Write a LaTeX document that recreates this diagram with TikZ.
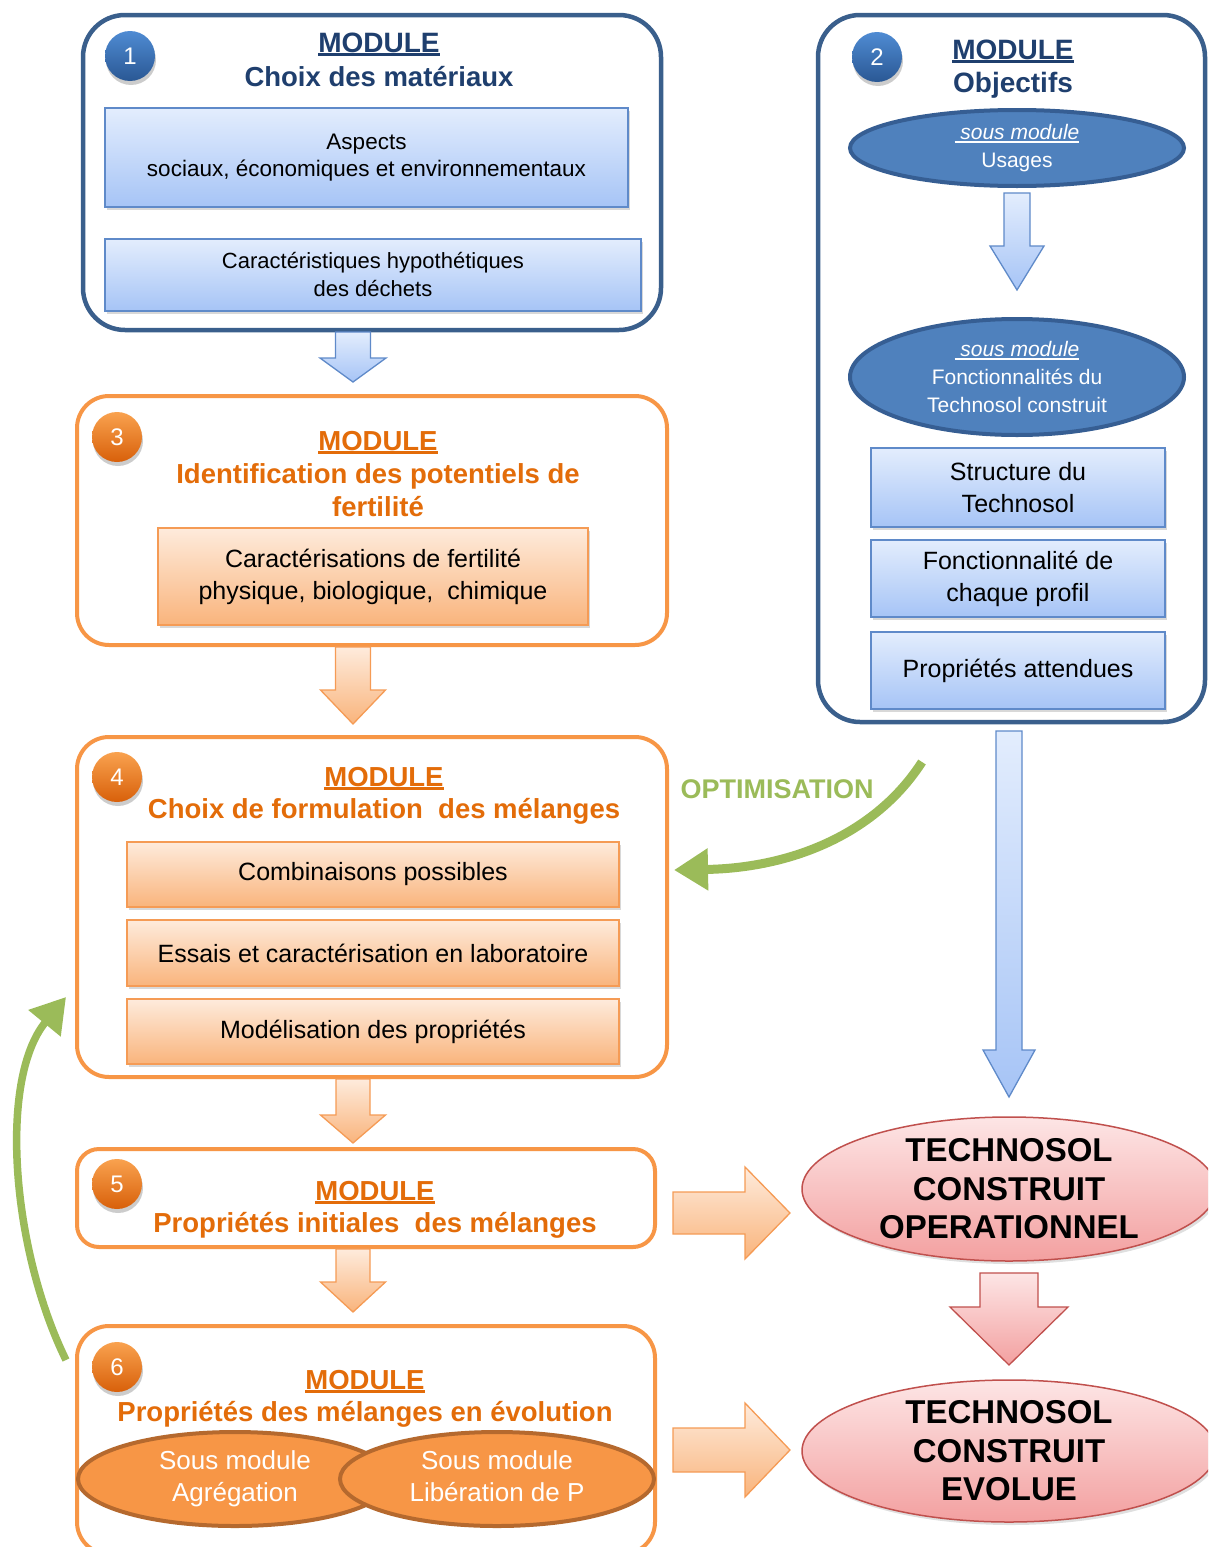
\documentclass[tikz,border=0pt]{standalone}
\usepackage{fontspec}
\setmainfont{Liberation Sans}
\usetikzlibrary{shapes.geometric,arrows.meta,shadows}
\definecolor{dblue}{HTML}{3A5F8C}
\definecolor{tblue}{HTML}{1F3F6E}
\definecolor{bbord}{HTML}{5F8AC9}
\definecolor{btop}{HTML}{E3EDFD}
\definecolor{bbot}{HTML}{A6C4F6}
\definecolor{eblue}{HTML}{4F81BD}
\definecolor{eborder}{HTML}{365E93}
\definecolor{nbtop}{HTML}{4F8BD3}
\definecolor{nbbot}{HTML}{2A5894}
\definecolor{orng}{HTML}{F79646}
\definecolor{torng}{HTML}{E36C09}
\definecolor{otop}{HTML}{FEEBDC}
\definecolor{obot}{HTML}{F9B47C}
\definecolor{obord}{HTML}{F59B55}
\definecolor{obrd}{HTML}{B5692E}
\definecolor{notop}{HTML}{F9A24F}
\definecolor{nobot}{HTML}{D8600A}
\definecolor{grn}{HTML}{9BBB59}
\definecolor{ptop}{HTML}{FDE5E5}
\definecolor{pbot}{HTML}{F3A0A0}
\definecolor{pbrd}{HTML}{C0504D}
\newcommand\uln[1]{\setbox0=\hbox{#1}\rlap{\rule[-3.5pt]{\wd0}{2.2pt}}\box0}
\newcommand\fsz[2]{\fontsize{#1}{#2}\selectfont}
% style, cx, ytop, shaft half, head half, head start y, tip y
\newcommand\blockarrowv[7]{\path[#1] (#2-#4,#3) -- (#2+#4,#3) -- (#2+#4,#6) -- (#2+#5,#6) -- (#2,#7) -- (#2-#5,#6) -- (#2-#4,#6) -- cycle;}
% style, cy, xleft, shaft half, head half, head start x, tip x
\newcommand\blockarrowh[7]{\path[#1] (#3,#2-#4) -- (#6,#2-#4) -- (#6,#2-#5) -- (#7,#2) -- (#6,#2+#5) -- (#6,#2+#4) -- (#3,#2+#4) -- cycle;}
\tikzset{
 bluemod/.style={draw=dblue, line width=4.5pt, rounded corners=42pt, fill=white},
 orgmod/.style={draw=orng, line width=4pt, rounded corners=32pt, fill=white},
 bluebox/.style={draw=bbord, line width=1.5pt, top color=btop, bottom color=bbot,
   drop shadow={opacity=0.3,shadow xshift=2pt,shadow yshift=-3pt}, align=center, inner sep=0pt},
 orgbox/.style={draw=obord, line width=1.5pt, top color=otop, bottom color=obot,
   drop shadow={opacity=0.3,shadow xshift=2pt,shadow yshift=-3pt}, align=center, inner sep=0pt},
 blueell/.style={ellipse, draw=eborder, line width=4pt, fill=eblue, text=white, align=center, inner sep=0pt},
 orgell/.style={ellipse, draw=obrd, line width=4pt, fill=orng, text=white, align=center, inner sep=0pt,
   font=\fsz{26}{32}},
 pinkell/.style={ellipse, draw=pbrd, line width=1.5pt, top color=ptop, bottom color=pbot, align=center,
   inner sep=0pt, font=\fsz{33}{38.5}\bfseries,
   drop shadow={opacity=0.25,shadow xshift=2pt,shadow yshift=-3pt}},
 bnum/.style={circle, minimum size=50pt, inner sep=0pt, top color=nbtop, bottom color=nbbot, text=white,
   font=\fsz{24}{28}, drop shadow={opacity=0.4,shadow xshift=1pt,shadow yshift=-4pt}},
 onum/.style={circle, minimum size=50pt, inner sep=0pt, top color=notop, bottom color=nobot, text=white,
   font=\fsz{24}{28}, drop shadow={opacity=0.4,shadow xshift=1pt,shadow yshift=-4pt}},
 btitle/.style={anchor=base, text=tblue, font=\fsz{28}{34}\bfseries, inner sep=0pt},
 otitle/.style={anchor=base, text=torng, font=\fsz{27.5}{33}\bfseries, inner sep=0pt, align=center},
 barrow/.style={draw=bbord, line width=1.3pt, top color=btop, bottom color=bbot},
 oarrow/.style={draw=obord, line width=1.3pt, top color=otop, bottom color=obot},
 parrow/.style={draw=pbrd, line width=1.3pt, top color=ptop, bottom color=pbot},
 garrow/.style={draw=grn, line width=9pt, -{Triangle[length=34pt,width=40pt]}},
}
\begin{document}
\begin{tikzpicture}[x=1pt,y=-1pt]
\useasboundingbox (0,0) rectangle (1208,1547);
\clip (0,0) rectangle (1208,1547);

% ---------- Module 1 ----------
\node[bluemod, minimum width=578pt, minimum height=315pt] (m1) at (372,172.5) {};
\node[bnum] (n1) at (130,56) {1};
\node[btitle] (t1a) at (379,52) {\uln{MODULE}};
\node[btitle, font=\fsz{27.5}{33}\bfseries] (t1b) at (379,86) {Choix des matériaux};
\node[bluebox, minimum width=523pt, minimum height=99pt, font=\fsz{22.5}{27.5}] (b1a) at (366.5,157.5)
  {Aspects\\sociaux, économiques et environnementaux};
\node[bluebox, minimum width=536pt, minimum height=72pt, font=\fsz{22}{28}] (b1b) at (373,275)
  {Caractéristiques hypothétiques\\des déchets};

% ---------- Module 2 ----------
\node[bluemod, minimum width=387pt, minimum height=707pt] (m2) at (1011.5,368.5) {};
\node[bnum] (n2) at (877,57) {2};
\node[btitle] (t2a) at (1013,59) {\uln{MODULE}};
\node[btitle] (t2b) at (1013,92) {Objectifs};
\node[blueell, minimum width=334pt, minimum height=76pt, font=\fsz{21}{28}] (e1) at (1017,148)
  {\itshape\uln{\ sous module}\\Usages};
\node[blueell, minimum width=334pt, minimum height=116pt, font=\fsz{21}{28}] (e2) at (1017,377)
  {\itshape\uln{\ sous module}\\Fonctionnalités du\\Technosol construit};
\node[bluebox, minimum width=294pt, minimum height=79pt, font=\fsz{25}{32}] (b2a) at (1018,487.5)
  {Structure du\\Technosol};
\node[bluebox, minimum width=294pt, minimum height=77pt, font=\fsz{25}{32}] (b2b) at (1018,578.5)
  {Fonctionnalité de\\chaque profil};
\node[bluebox, minimum width=294pt, minimum height=77pt, font=\fsz{25}{32}] (b2c) at (1018,670.5)
  {Propriétés attendues};
\blockarrowv{barrow}{1017}{193}{13}{27}{246}{290}

% ---------- Module 3 ----------
\node[orgmod, minimum width=590pt, minimum height=249pt] (m3) at (372,520.5) {};
\node[onum] (n3) at (117,437) {3};
\node[otitle] (t3a) at (378,450) {\uln{MODULE}};
\node[otitle] (t3b) at (378,483) {Identification des potentiels de};
\node[otitle] (t3c) at (378,516) {fertilité};
\node[orgbox, minimum width=430pt, minimum height=97pt, font=\fsz{25}{32}] (b3) at (373,576.5)
  {Caractérisations de fertilité\\physique, biologique,\ \ chimique};

% ---------- Module 4 ----------
\node[orgmod, minimum width=590pt, minimum height=340pt] (m4) at (372,907) {};
\node[onum] (n4) at (117,777) {4};
\node[otitle] (t4a) at (384,786) {\uln{MODULE}};
\node[otitle] (t4b) at (384,818) {Choix de formulation\ \ des mélanges};
\node[orgbox, minimum width=492pt, minimum height=65pt, font=\fsz{25}{32}] (b4a) at (373,874.5)
  {Combinaisons possibles};
\node[orgbox, minimum width=492pt, minimum height=66pt, font=\fsz{25}{32}] (b4b) at (373,953)
  {Essais et caractérisation en laboratoire};
\node[orgbox, minimum width=492pt, minimum height=65pt, font=\fsz{25}{32}] (b4c) at (373,1031.5)
  {Modélisation des propriétés};

% ---------- Module 5 ----------
\node[orgmod, rounded corners=22pt, minimum width=578pt, minimum height=98pt] (m5) at (366,1198) {};
\node[onum] (n5) at (117,1184) {5};
\node[otitle] (t5a) at (375,1200) {\uln{MODULE}};
\node[otitle] (t5b) at (375,1232) {Propriétés initiales\ \ des mélanges};

% ---------- Module 6 ----------
\node[orgmod, minimum width=578pt, minimum height=228pt] (m6) at (366,1440) {};
\node[onum] (n6) at (117,1367) {6};
\node[otitle] (t6a) at (365,1389) {\uln{MODULE}};
\node[otitle] (t6b) at (365,1421) {Propriétés des mélanges en évolution};
\node[orgell, minimum width=314pt, minimum height=94pt] (s1) at (235,1479) {Sous module\\Agrégation};
\node[orgell, minimum width=314pt, minimum height=94pt] (s2) at (497,1479) {Sous module\\Libération de P\vphantom{g}};

% ---------- Technosol ----------
\node[pinkell, minimum width=414pt, minimum height=144pt] (tc1) at (1009,1189)
  {TECHNOSOL\\CONSTRUIT\\OPERATIONNEL};
\node[pinkell, minimum width=414pt, minimum height=142pt] (tc2) at (1009,1451)
  {TECHNOSOL\\CONSTRUIT\\EVOLUE};

% ---------- Block arrows ----------
\blockarrowv{barrow}{353}{332}{17.5}{33}{358}{382}
\blockarrowv{barrow}{1009}{731}{13}{26}{1050}{1097}
\blockarrowv{oarrow}{353}{647}{17.5}{32.5}{690}{724}
\blockarrowv{oarrow}{353}{1079}{17}{32.5}{1115}{1143}
\blockarrowv{oarrow}{353}{1249}{17}{32.5}{1282}{1312}
\blockarrowh{oarrow}{1213}{673}{21}{46}{745}{790}
\blockarrowh{oarrow}{1450}{673}{22}{47}{745}{790}
\blockarrowv{parrow}{1009}{1273}{29}{59}{1307}{1365}

% ---------- Green arrows ----------
\coordinate (optstart) at (922,762);
\coordinate (optend) at (674,870);
\draw[garrow] (optstart) .. controls (875,835) and (790,868) .. (optend);
\node[text=grn, font=\fsz{27}{32}\bfseries] (opt) at (777,789) {OPTIMISATION};
\coordinate (loopstart) at (66,1360);
\coordinate (loopend) at (66,997);
\draw[garrow, line width=7.5pt] (loopstart) .. controls (12,1250) and (-2,1080) .. (loopend);
\end{tikzpicture}
\end{document}
